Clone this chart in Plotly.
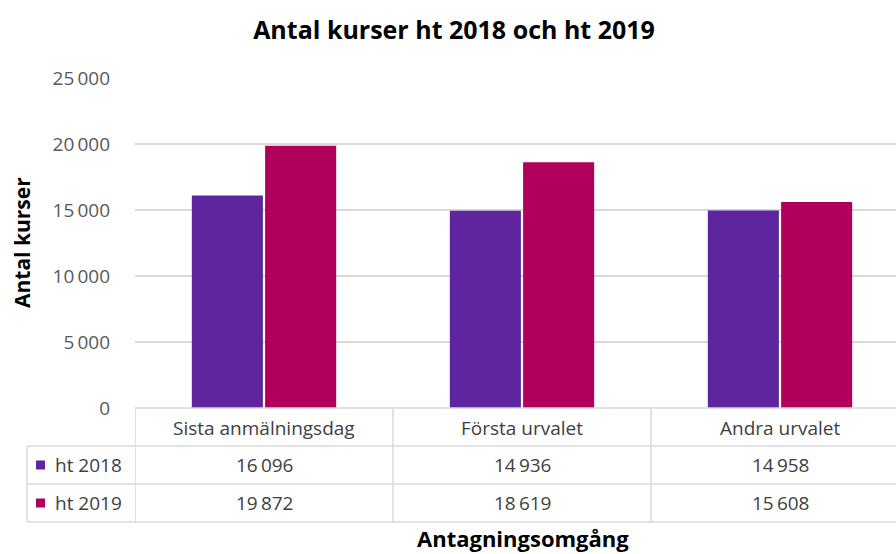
import plotly.graph_objects as go

categories = ["Sista anmälningsdag", "Första urvalet", "Andra urvalet"]
series_names = ["ht 2018", "ht 2019"]
ht2018 = [16096, 14936, 14958]
ht2019 = [19872, 18619, 15608]
colors = ["#5f259f", "#b1005c"]
y_ticks = [0, 5000, 10000, 15000, 20000, 25000]

def fmt(v):
    return f"{v:,}".replace(",", "\u2009")

W, H = 896, 554
L, R, T, B = 135, 0, 78, 146
PW = W - L - R
PH = H - T - B

def py(pix):
    return (T + PH - pix) / PH

def px(pix):
    return (pix - L) / PW

FONT = "Open Sans"
TXT = "#404040"
GRID = "#d9d9d9"

fig = go.Figure()
for name, vals, c in zip(series_names, [ht2018, ht2019], colors):
    fig.add_trace(go.Bar(x=list(range(len(categories))), y=vals, name=name,
                         marker=dict(color=c, line=dict(width=0))))

fig.update_layout(
    width=W, height=H, autosize=False,
    margin=dict(l=L, r=R, t=T, b=B),
    paper_bgcolor="white", plot_bgcolor="white",
    barmode="group", bargap=0.432, bargroupgap=0.03,
    showlegend=False,
    title=dict(text="<b>Antal kurser ht 2018 och ht 2019</b>", x=454 / W, xanchor="center",
               y=1 - 30 / H, yanchor="middle",
               font=dict(family=FONT, size=25, color="#000000")),
    font=dict(family=FONT, color=TXT),
)

cat_w = 258
fig.update_xaxes(range=[-0.5, -0.5 + PW / cat_w], showticklabels=False, showgrid=False,
                 zeroline=False, showline=False, ticks="")
fig.update_yaxes(range=[0, 25000], tickvals=y_ticks, ticktext=[fmt(v) for v in y_ticks],
                 showgrid=True, gridcolor=GRID, gridwidth=1.5, zeroline=False, showline=False,
                 tickfont=dict(family=FONT, size=19, color="#595959"), ticklabelstandoff=24)

shapes = []
line = dict(color=GRID, width=1.5)
row_lines = [408, 446, 484, 522]
for i, yy in enumerate(row_lines):
    x0 = L if i == 0 else 27
    shapes.append(dict(type="line", xref="paper", yref="paper", x0=px(x0), x1=1.0,
                       y0=py(yy), y1=py(yy), line=line))
shapes.append(dict(type="line", xref="paper", yref="paper", x0=px(27), x1=px(27),
                   y0=py(446), y1=py(522), line=line))
for k in range(len(categories)):
    shapes.append(dict(type="line", xref="x", yref="paper", x0=k - 0.5, x1=k - 0.5,
                       y0=py(408), y1=py(522), line=line))

TS = 19
ann = []
for k, cat in enumerate(categories):
    ann.append(dict(x=k, y=py(428), xref="x", yref="paper", text=cat, showarrow=False,
                    font=dict(family=FONT, size=TS, color=TXT), xanchor="center", yanchor="middle"))
    for r, vals in enumerate([ht2018, ht2019]):
        ann.append(dict(x=k, y=py([465, 503][r]), xref="x", yref="paper", text=fmt(vals[k]),
                        showarrow=False, font=dict(family=FONT, size=TS, color=TXT),
                        xanchor="center", yanchor="middle"))
for r, (name, c) in enumerate(zip(series_names, colors)):
    yy = [465, 503][r]
    shapes.append(dict(type="rect", xref="paper", yref="paper", x0=px(36), x1=px(45),
                       y0=py(yy + 4.5), y1=py(yy - 4.5), fillcolor=c, line=dict(width=0)))
    ann.append(dict(x=px(53), y=py(yy), xref="paper", yref="paper", text=name, showarrow=False,
                    font=dict(family=FONT, size=TS, color=TXT), xanchor="left", yanchor="middle"))

ann.append(dict(x=px(523), y=py(538), xref="paper", yref="paper",
                text="<b>Antagningsomgång</b>", showarrow=False,
                font=dict(family=FONT, size=22, color="#000000"), xanchor="center", yanchor="middle"))
ann.append(dict(x=px(22), y=py(243), xref="paper", yref="paper", text="<b>Antal kurser</b>",
                textangle=-90, showarrow=False, font=dict(family=FONT, size=21, color="#000000"),
                xanchor="center", yanchor="middle"))

fig.update_layout(shapes=shapes, annotations=ann)
fig.write_html("out.html", config={"displayModeBar": False},
               post_script="document.body.style.margin='0';document.body.style.padding='0';")
